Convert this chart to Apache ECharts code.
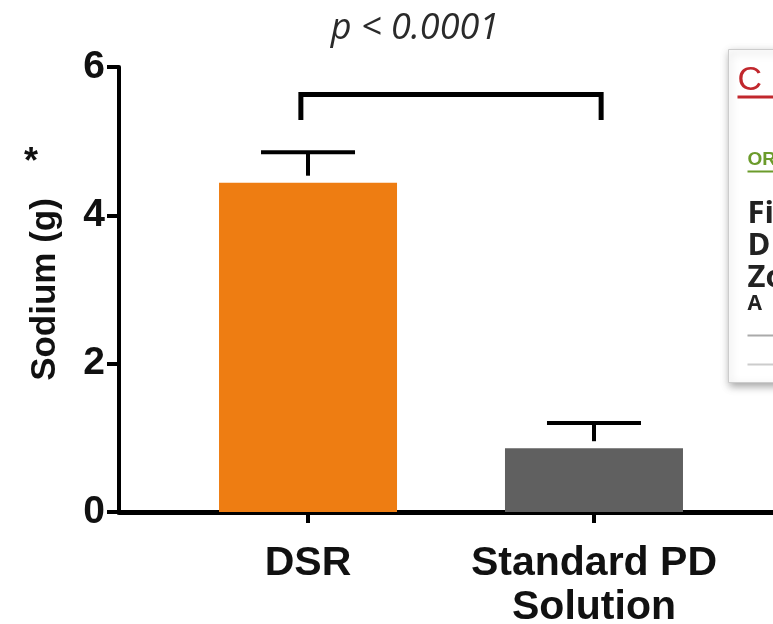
<!DOCTYPE html>
<html>
<head>
<meta charset="utf-8">
<script src="https://cdn.jsdelivr.net/npm/echarts@6/dist/echarts.min.js"></script>
<style>
html,body{margin:0;padding:0;background:#fff;}
#chart{width:773px;height:624px;}
</style>
</head>
<body>
<div id="chart"></div>
<script>
// ---- data ----
const categories = ['DSR', 'Standard PD\nSolution'];
const categoryPos = [1, 2];
const means = [4.44, 0.86];
const errTops = [4.85, 1.20];
const barColors = ['#EE7D12', '#606060'];
const yTicks = [0, 2, 4, 6];
const pText = 'p < 0.0001';
const bracketX = [0.975, 2.025];
const bracketY = [5.63, 5.285];

const chart = echarts.init(document.getElementById('chart'));
const FONT = '"Liberation Sans", Arial, sans-serif';

const barData = categoryPos.map((x, i) => ({ value: [x, means[i]], itemStyle: { color: barColors[i] } }));
const errData = categoryPos.map((x, i) => [x, means[i], errTops[i]]);

const option = {
  animation: false,
  backgroundColor: '#fff',
  title: {
    text: pText,
    left: 410, top: 6, textAlign: 'center',
    textStyle: { fontFamily: '"Open Sans", sans-serif', fontStyle: 'italic', fontWeight: 'normal', fontSize: 36, color: '#2a2a2a' }
  },
  grid: { left: 119, right: 0, top: 67, bottom: 112, containLabel: false, outerBoundsMode: 'none' },
  xAxis: {
    type: 'value', min: 0.339, max: 2.626,
    splitLine: { show: false },
    axisLine: { lineStyle: { color: '#000', width: 5 } },
    axisTick: { customValues: categoryPos, length: 11, lineStyle: { color: '#000', width: 4 } },
    axisLabel: {
      customValues: categoryPos,
      formatter: v => categories[categoryPos.indexOf(Math.round(v))] || '',
      fontFamily: FONT, fontWeight: 'bold', fontSize: 41, color: '#111', lineHeight: 44, margin: 30
    }
  },
  yAxis: {
    type: 'value', min: 0, max: 6, interval: 2,
    name: 'Sodium (g)', nameLocation: 'middle', nameGap: 56,
    nameTextStyle: { fontFamily: FONT, fontWeight: 'bold', fontSize: 35, color: '#111' },
    splitLine: { show: false },
    axisLine: { show: true, lineStyle: { color: '#000', width: 4 } },
    axisTick: { show: true, length: 12, lineStyle: { color: '#000', width: 4 } },
    axisLabel: { fontFamily: FONT, fontWeight: 'bold', fontSize: 39, color: '#111', margin: 14 }
  },
  graphic: [
    { type: 'text', left: 24, top: 145, style: { text: '*', font: 'bold 36px ' + FONT, fill: '#111' } },
    // overlay popup (cropped screenshot element on the right)
    { type: 'group', left: 728, top: 49, children: [
      { type: 'rect', shape: { x: 0, y: 0, width: 80, height: 333 }, style: { fill: '#fff', stroke: '#ccc', lineWidth: 1, shadowBlur: 8, shadowColor: 'rgba(0,0,0,0.35)', shadowOffsetX: 1, shadowOffsetY: 3 } },
      { type: 'text', x: 9, y: 14, style: { text: 'C', font: '34px "Liberation Sans", sans-serif', fill: '#c1272d' } },
      { type: 'rect', shape: { x: 9, y: 46, width: 72, height: 3 }, style: { fill: '#c1272d' } },
      { type: 'text', x: 19, y: 101, style: { text: 'OR', font: 'bold 19px "Liberation Sans Narrow", "Liberation Sans", sans-serif', fill: '#6b9b2b' } },
      { type: 'rect', shape: { x: 19, y: 121, width: 60, height: 2 }, style: { fill: '#6b9b2b' } },
      { type: 'text', x: 19, y: 149, style: { text: 'Fi', font: 'bold 31px "Open Sans", sans-serif', fill: '#222' } },
      { type: 'text', x: 19, y: 181, style: { text: 'D', font: 'bold 31px "Open Sans", sans-serif', fill: '#222' } },
      { type: 'text', x: 19, y: 213, style: { text: 'Zo', font: 'bold 31px "Open Sans", sans-serif', fill: '#222' } },
      { type: 'text', x: 19, y: 244, style: { text: 'A', font: 'bold 21px "Open Sans", sans-serif', fill: '#222' } },
      { type: 'rect', shape: { x: 19, y: 285, width: 60, height: 2 }, style: { fill: '#aaa' } },
      { type: 'rect', shape: { x: 19, y: 314, width: 60, height: 2 }, style: { fill: '#ccc' } }
    ]}
  ],
  series: [
    {
      type: 'bar', data: barData, barWidth: 178, z: 2
    },
    {
      type: 'custom', data: errData, z: 3,
      renderItem: function (params, api) {
        const x = api.value(0);
        const base = api.coord([x, api.value(1)]);
        const top = api.coord([x, api.value(2)]);
        const half = 47;
        return {
          type: 'group', children: [
            { type: 'line', shape: { x1: base[0], y1: base[1] - 7, x2: top[0], y2: top[1] }, style: { stroke: '#000', lineWidth: 4 } },
            { type: 'line', shape: { x1: top[0] - half, y1: top[1], x2: top[0] + half, y2: top[1] }, style: { stroke: '#000', lineWidth: 4 } }
          ]
        };
      }
    },
    {
      type: 'line', z: 3, symbol: 'none',
      data: [[bracketX[0], bracketY[1]], [bracketX[0], bracketY[0]], [bracketX[1], bracketY[0]], [bracketX[1], bracketY[1]]],
      lineStyle: { color: '#000', width: 5, join: 'miter', cap: 'butt' }
    }
  ]
};
chart.setOption(option);
</script>
</body>
</html>
